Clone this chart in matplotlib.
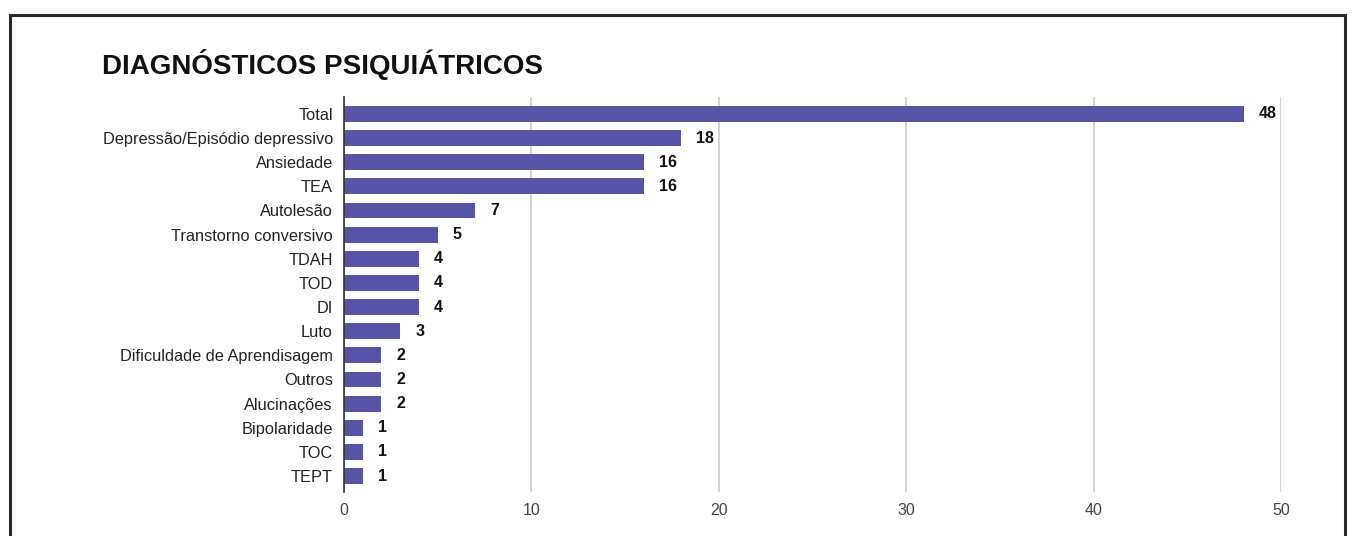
import matplotlib
matplotlib.use("Agg")
import matplotlib.pyplot as plt
from matplotlib.lines import Line2D

categories = ["Total", "Depressão/Episódio depressivo", "Ansiedade", "TEA", "Autolesão",
              "Transtorno conversivo", "TDAH", "TOD", "DI", "Luto",
              "Dificuldade de Aprendisagem", "Outros", "Alucinações", "Bipolaridade", "TOC", "TEPT"]
values = [48, 18, 16, 16, 7, 5, 4, 4, 4, 3, 2, 2, 2, 1, 1, 1]
xticks = [0, 10, 20, 30, 40, 50]
title = "DIAGNÓSTICOS PSIQUIÁTRICOS"

plt.rcParams['font.family'] = ['Liberation Sans', 'DejaVu Sans']

W, H = 1358, 536
fig = plt.figure(figsize=(W / 100, H / 100), dpi=100)
fig.patch.set_facecolor("white")

# axes placement in pixels
left, right, top, bottom = 344, 1281, 97, 492
ax = fig.add_axes([left / W, 1 - bottom / H, (right - left) / W, (bottom - top) / H])

pos = list(range(len(categories)))
ax.barh(pos, values, height=0.66, color="#5753a7", zorder=3)
for p, v in zip(pos, values):
    ax.text(v + 0.8, p, str(v), va="center", ha="left", fontsize=11.5, fontweight="bold", color="#111111")

ax.set_ylim(len(categories) - 1 + 0.66, -0.7)
ax.set_xlim(0, 50)
ax.set_yticks(pos)
ax.set_yticklabels(categories, fontsize=11.8, color="#222222")
ax.set_xticks(xticks)
ax.set_xticklabels([str(t) for t in xticks], fontsize=11.5, color="#444444")
ax.tick_params(axis="both", length=0)
ax.tick_params(axis="y", pad=8)
ax.tick_params(axis="x", pad=8)
ax.grid(axis="x", color="#cccccc", linewidth=1.2, zorder=0)
for s in ["top", "right", "bottom"]:
    ax.spines[s].set_visible(False)
ax.spines["left"].set_color("#333333")
ax.spines["left"].set_linewidth(1.2)
ax.spines["left"].set_zorder(4)

fig.text(102 / W, 1 - 65 / H, title, fontsize=20, fontweight="bold", color="#111111", va="center", ha="left")

# outer frame (left, top, right)
fx0, fx1, fy = 10 / W, 1345 / W, 1 - 15 / H
lw = 2.2
fig.add_artist(Line2D([fx0, fx0], [0, fy], transform=fig.transFigure, color="#2a2a2a", linewidth=lw))
fig.add_artist(Line2D([fx0, fx1], [fy, fy], transform=fig.transFigure, color="#2a2a2a", linewidth=lw))
fig.add_artist(Line2D([fx1, fx1], [fy, 0], transform=fig.transFigure, color="#2a2a2a", linewidth=lw))

fig.savefig("out.png", dpi=100)
